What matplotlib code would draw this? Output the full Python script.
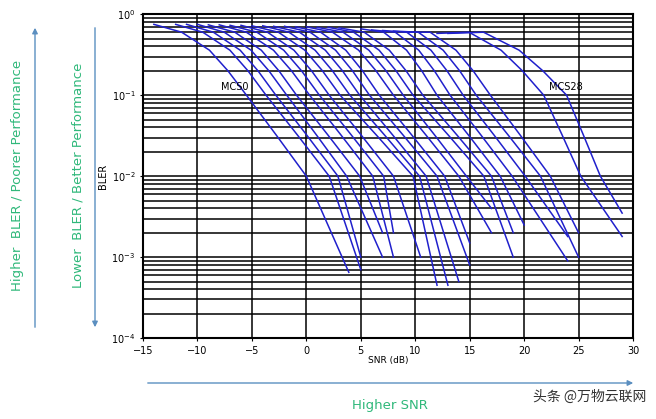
import matplotlib
matplotlib.use("Agg")
import matplotlib.pyplot as plt
from matplotlib.ticker import LogLocator, NullFormatter

plt.rcParams["font.family"] = ["DejaVu Sans"]

# per-curve key points: start SNR, SNR at BLER 0.1, SNR at BLER 0.01, end SNR, end BLER
snr_start = [-14, -12, -11, -10, -9, -8, -7, -6, -5, -4, -3, -2, -1, 0, 1, 2, 3, 5, 6, 7, 8, 9, 12, 13]
bler_start = [0.75, 0.75, 0.75, 0.75, 0.74, 0.74, 0.73, 0.73, 0.72, 0.72, 0.71, 0.71, 0.7, 0.7,
              0.69, 0.69, 0.68, 0.66, 0.64, 0.63, 0.62, 0.6, 0.58, 0.58]
snr_01 = [-5.5, -3.7, -2.8, -1.8, -0.9, 0.3, 1.2, 2.1, 3.1, 4.0, 4.9, 5.8, 6.7, 8.0, 8.9, 9.8,
          10.7, 12.0, 13.2, 14.4, 15.6, 16.9, 21.8, 23.9]
snr_001 = [0.0, 2.1, 2.9, 3.7, 4.9, 6.1, 7.1, 8.0, 9.8, 10.4, 11.0, 12.0, 12.7, 14.0, 14.7, 16.3,
           17.0, 17.8, 18.9, 20.1, 21.5, 22.4, 25.2, 27.0]
snr_end = [3.9, 5.0, 5.0, 7.0, 7.0, 8.0, 8.0, 10.5, 12.0, 13.0, 14.0, 15.0, 15.0, 17.0, 17.0, 19.0,
           19.0, 20.0, 24.0, 24.0, 25.0, 25.0, 29.0, 29.0]
bler_end = [6.5e-4, 7e-4, 1e-3, 1e-3, 2e-3, 1e-3, 2e-3, 1e-3, 4.5e-4, 4.5e-4, 5e-4, 8e-4, 1.5e-3,
            2e-3, 4e-3, 1e-3, 2e-3, 2.5e-3, 9e-4, 1.8e-3, 1e-3, 2e-3, 1.8e-3, 3.5e-3]
# shape of the upper part: fraction of the start->0.1 span at which each BLER level is reached
knee_frac = [0.3, 0.6, 0.8]
knee_bler = [0.6, 0.36, 0.2]

fig = plt.figure(figsize=(6.56, 4.19), dpi=100)
ax = fig.add_axes([0.218, 0.193, 0.747, 0.773])

for i in range(len(snr_start)):
    s, a, b = snr_start[i], snr_01[i], snr_001[i]
    xs = [s] + [s + f * (a - s) for f in knee_frac] + [a, (a + b) / 2, b, snr_end[i]]
    ys = [bler_start[i]] + knee_bler + [0.1, 0.032, 0.01, bler_end[i]]
    ax.plot(xs, ys, color="#2020cc", lw=1.1)

ax.set_yscale("log")
ax.set_xlim(-15, 30)
ax.set_ylim(1e-4, 1)
ax.set_xticks(range(-15, 31, 5))
ax.yaxis.set_major_locator(LogLocator(base=10))
ax.yaxis.set_minor_locator(LogLocator(base=10, subs=range(2, 10)))
ax.yaxis.set_minor_formatter(NullFormatter())
ax.grid(True, which="both", axis="y", color="black", lw=1.1)
ax.grid(True, which="major", axis="x", color="black", lw=1.1)
for sp in ax.spines.values():
    sp.set_linewidth(1.5)
ax.tick_params(labelsize=7, length=2)
ax.tick_params(which="minor", length=0)
ax.set_xlabel("SNR (dB)", fontsize=6.5, labelpad=0)
ax.set_ylabel("BLER", fontsize=7, labelpad=2)

ax.text(-6.6, 0.11, "MCS0", fontsize=7, ha="center", va="bottom")
ax.text(23.8, 0.11, "MCS28", fontsize=7, ha="center", va="bottom")

green = "#2fb87a"
arrow_c = "#5b8fc0"
def fx(px): return px / 656
def fy(py): return 1 - py / 419

fig.patches.append(matplotlib.patches.FancyArrowPatch(
    (fx(35), fy(330)), (fx(35), fy(25)), transform=fig.transFigure,
    arrowstyle="-|>", mutation_scale=8, color=arrow_c, lw=1))
fig.patches.append(matplotlib.patches.FancyArrowPatch(
    (fx(95), fy(25)), (fx(95), fy(330)), transform=fig.transFigure,
    arrowstyle="-|>", mutation_scale=8, color=arrow_c, lw=1))
fig.patches.append(matplotlib.patches.FancyArrowPatch(
    (fx(145), fy(383)), (fx(636), fy(383)), transform=fig.transFigure,
    arrowstyle="-|>", mutation_scale=8, color=arrow_c, lw=1))
fig.text(fx(18), fy(175), "Higher  BLER / Poorer Performance", rotation=90,
         color=green, fontsize=9.5, ha="center", va="center")
fig.text(fx(78), fy(175), "Lower  BLER / Better Performance", rotation=90,
         color=green, fontsize=9.5, ha="center", va="center")
fig.text(fx(390), fy(405), "Higher SNR", color=green, fontsize=9.5, ha="center", va="center")
fig.text(fx(590), fy(397), "头条 @万物云联网", color="#333333", fontsize=10,
         ha="center", va="center", family=["Noto Sans CJK SC", "DejaVu Sans"])

fig.savefig("out.png", dpi=100, facecolor="white")
